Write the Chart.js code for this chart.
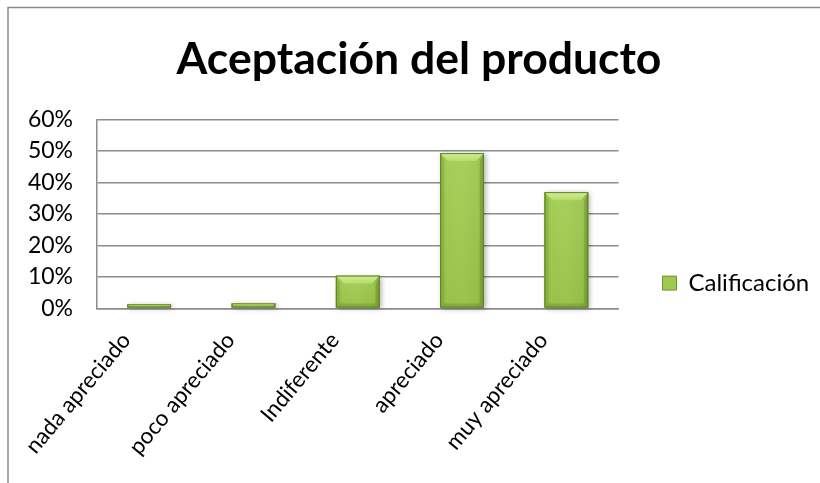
<!DOCTYPE html>
<html>
<head>
<meta charset="utf-8">
<script src="https://cdn.jsdelivr.net/npm/chart.js@4/dist/chart.umd.min.js"></script>
<style>
  html, body { margin: 0; padding: 0; background: #fff; }
  #wrap { width: 820px; height: 483px; position: relative; }
</style>
</head>
<body>
<div id="wrap"><canvas id="c" width="820" height="483"></canvas></div>
<script>
// Categories, values (percent) and axis ticks
const categories = ['nada apreciado', 'poco apreciado', 'Indiferente', 'apreciado', 'muy apreciado'];
const calificacion = [1.3, 1.6, 10.4, 49.3, 36.9];
const seriesName = 'Calificación';
const yTicks = [0, 10, 20, 30, 40, 50, 60];
const chartTitle = 'Aceptación del producto';

const FONT = 'Lato, Calibri, Carlito, "DejaVu Sans", sans-serif';
const GRID = '#8c8c8c';

// Outer frame of the chart object
const frame = {
  id: 'frame',
  beforeDraw(chart) {
    const ctx = chart.ctx;
    ctx.save();
    ctx.fillStyle = '#fff';
    ctx.fillRect(0, 0, chart.width, chart.height);
    ctx.strokeStyle = '#8a8a8a';
    ctx.lineWidth = 1.5;
    ctx.strokeRect(8, 7.5, chart.width + 20, chart.height + 20);
    ctx.restore();
  }
};

// Bevelled look for each bar, using the bar geometry computed by Chart.js
const bevel = {
  id: 'bevel',
  afterDatasetsDraw(chart) {
    const ctx = chart.ctx;
    chart.getDatasetMeta(0).data.forEach(bar => {
      const { x, y, base, width } = bar.getProps(['x', 'y', 'base', 'width'], true);
      const l = x - width / 2, r = x + width / 2, t = Math.min(y, base), b = Math.max(y, base);
      const h = b - t;
      const e = Math.min(8, h / 2);
      const s = Math.min(4, h / 2);
      ctx.save();
      // soft shadow + body
      ctx.shadowColor = 'rgba(0,0,0,0.3)';
      ctx.shadowBlur = 5;
      ctx.shadowOffsetX = 2;
      ctx.shadowOffsetY = 1;
      const g = ctx.createLinearGradient(l, 0, r, 0);
      g.addColorStop(0, '#8fb842');
      g.addColorStop(0.15, '#9fca4e');
      g.addColorStop(0.5, '#a2cc51');
      g.addColorStop(0.85, '#9ac64b');
      g.addColorStop(1, '#86ad3b');
      ctx.fillStyle = g;
      ctx.fillRect(l, t, width, h);
      ctx.shadowColor = 'transparent';
      // slight darkening toward the base
      const gv = ctx.createLinearGradient(0, t, 0, b);
      gv.addColorStop(0, 'rgba(255,255,255,0.06)');
      gv.addColorStop(1, 'rgba(60,90,10,0.08)');
      ctx.fillStyle = gv;
      ctx.fillRect(l, t, width, h);
      // top facet
      const gt = ctx.createLinearGradient(0, t, 0, t + e);
      gt.addColorStop(0, '#d2ee98');
      gt.addColorStop(1, '#b6dc6a');
      ctx.fillStyle = gt;
      ctx.beginPath();
      ctx.moveTo(l, t); ctx.lineTo(r, t); ctx.lineTo(r - e, t + e); ctx.lineTo(l + e, t + e);
      ctx.closePath(); ctx.fill();
      // left facet
      ctx.fillStyle = 'rgba(120,160,50,0.35)';
      ctx.beginPath();
      ctx.moveTo(l, t); ctx.lineTo(l + s, t + e); ctx.lineTo(l + s, b - s); ctx.lineTo(l, b);
      ctx.closePath(); ctx.fill();
      // right facet
      ctx.fillStyle = 'rgba(95,130,35,0.35)';
      ctx.beginPath();
      ctx.moveTo(r, t); ctx.lineTo(r - s, t + e); ctx.lineTo(r - s, b - s); ctx.lineTo(r, b);
      ctx.closePath(); ctx.fill();
      // bottom facet
      ctx.fillStyle = 'rgba(90,125,30,0.3)';
      ctx.beginPath();
      ctx.moveTo(l, b); ctx.lineTo(l + s, b - s); ctx.lineTo(r - s, b - s); ctx.lineTo(r, b);
      ctx.closePath(); ctx.fill();
      // outline
      ctx.strokeStyle = '#5f7f25';
      ctx.lineWidth = 1;
      ctx.strokeRect(l + 0.5, t + 0.5, width - 1, h - 1);
      ctx.restore();
    });
  }
};

new Chart(document.getElementById('c'), {
  type: 'bar',
  data: {
    labels: categories,
    datasets: [{
      label: seriesName,
      data: calificacion,
      backgroundColor: '#9ec94d',
      borderColor: '#5e7e22',
      borderWidth: 0,
      categoryPercentage: 0.7,
      barPercentage: 0.6
    }]
  },
  options: {
    responsive: false,
    animation: false,
    devicePixelRatio: 1,
    layout: { padding: { left: 20, right: 2, top: 0, bottom: 4 } },
    plugins: {
      title: {
        display: true,
        text: chartTitle,
        color: '#000',
        font: { family: FONT, size: 44.5, weight: 'bold' },
        padding: { top: 33, bottom: 33 }
      },
      legend: {
        display: true,
        position: 'right',
        // empty heading used as a spacer so the entry sits lower in the column
        title: { display: true, text: ' ', font: { size: 1 }, padding: { top: 86, bottom: 0 } },
        labels: {
          color: '#000',
          font: { family: FONT, size: 24 },
          boxWidth: 14,
          boxHeight: 14,
          padding: 44,
          generateLabels: () => [{
            text: seriesName,
            fillStyle: '#9ec94d',
            strokeStyle: '#6f9330',
            fontColor: '#000',
            lineWidth: 1,
            datasetIndex: 0
          }]
        }
      },
      tooltip: { enabled: false }
    },
    scales: {
      x: {
        grid: { display: false, drawTicks: false },
        border: { display: true, color: GRID, width: 1.5 },
        // rotated labels hang left of their tick; let them use the margin freely
        afterFit: s => { s.paddingLeft = 0; s.paddingRight = 0; },
        ticks: {
          color: '#000',
          font: { family: FONT, size: 22.5 },
          minRotation: 50,
          maxRotation: 50,
          padding: 19,
          labelOffset: -23
        }
      },
      y: {
        min: yTicks[0],
        max: yTicks[yTicks.length - 1],
        grid: { color: GRID, lineWidth: 1.5, drawTicks: false },
        border: { display: true, color: GRID, width: 1.5 },
        afterBuildTicks: scale => { scale.ticks = yTicks.map(v => ({ value: v })); },
        afterFit: s => { s.width = 77; },
        ticks: {
          color: '#000',
          font: { family: FONT, size: 23 },
          padding: 24,
          autoSkip: false,
          callback: v => v + '%'
        }
      }
    }
  },
  plugins: [frame, bevel]
});
</script>
</body>
</html>
